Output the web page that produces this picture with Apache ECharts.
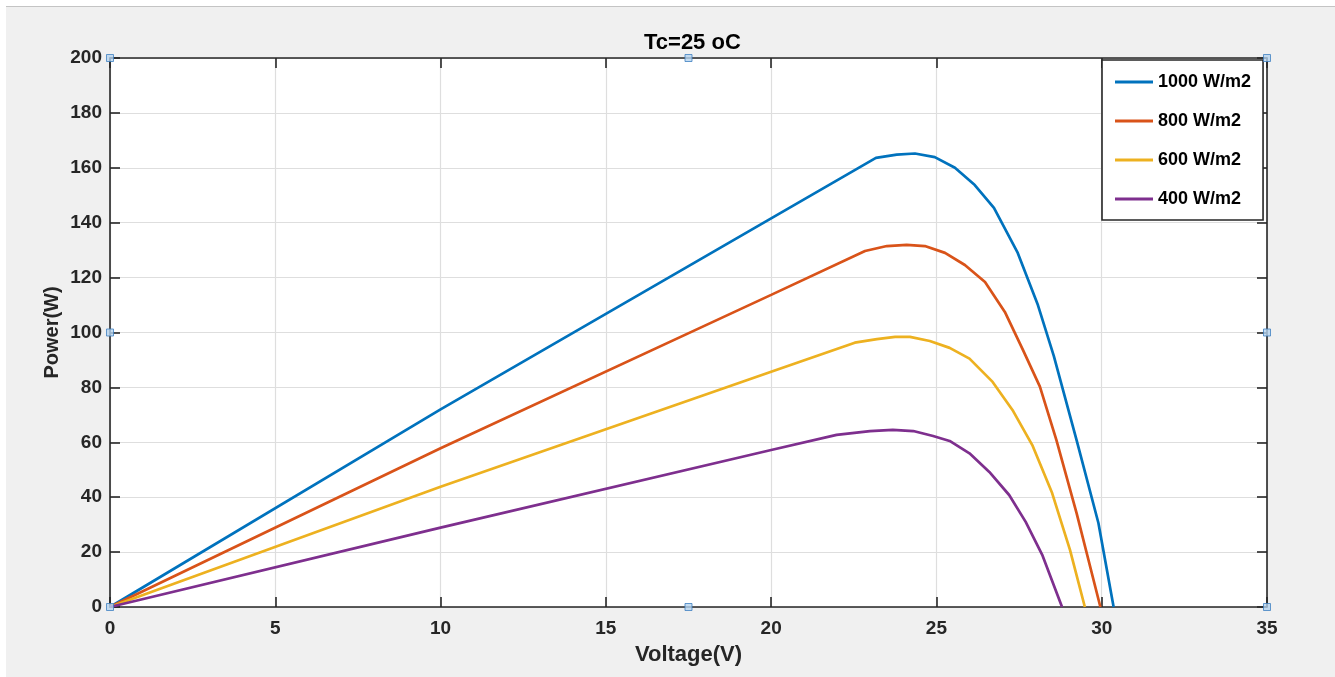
<!DOCTYPE html>
<html>
<head>
<meta charset="utf-8">
<script src="https://cdn.jsdelivr.net/npm/echarts@6/dist/echarts.min.js"></script>
<style>
html,body{margin:0;padding:0;background:#ffffff;}
#bg{position:absolute;left:6px;top:6px;width:1329px;height:671px;background:#f0f0f0;border-top:1px solid #c4c4c4;}
#chart{position:absolute;left:0;top:0;width:1335px;height:677px;}
</style>
</head>
<body>
<div id="bg"></div>
<div id="chart"></div>
<script>
// ---- data ----
const seriesNames = ['1000 W/m2', '800 W/m2', '600 W/m2', '400 W/m2'];

const v1000 = [0, 10, 20, 23.17, 23.8, 24.35, 24.95, 25.56, 26.16, 26.74, 27.46, 28.07, 28.55, 29.24, 29.9, 30.36];
const p1000 = [0, 72.0, 141.6, 163.6, 164.8, 165.2, 163.9, 160.0, 153.7, 145.4, 129.0, 110.0, 91.5, 60.8, 30.6, 0];

const v800 = [0, 10, 20, 22.84, 23.5, 24.1, 24.65, 25.26, 25.86, 26.47, 27.07, 27.62, 28.13, 28.63, 29.24, 29.96];
const p800 = [0, 57.8, 113.7, 129.7, 131.5, 131.9, 131.5, 129.0, 124.6, 118.4, 107.5, 93.6, 80.3, 60.8, 34.2, 0];

const v600 = [0, 10, 20, 22.53, 23.2, 23.75, 24.2, 24.8, 25.4, 26.0, 26.7, 27.3, 27.9, 28.5, 29.04, 29.49];
const p600 = [0, 43.8, 85.7, 96.3, 97.6, 98.4, 98.4, 96.9, 94.4, 90.5, 82.0, 71.8, 59.0, 41.5, 20.8, 0];

const v400 = [0, 10, 20, 21.98, 22.99, 23.68, 24.3, 24.9, 25.4, 26.0, 26.6, 27.2, 27.7, 28.2, 28.8];
const p400 = [0, 28.9, 57.2, 62.7, 64.1, 64.5, 64.1, 62.3, 60.5, 56.0, 49.2, 40.8, 31.0, 19.0, 0];

const xTicks = {min: 0, max: 35, interval: 5};
const yTicks = {min: 0, max: 200, interval: 20};

// selection handles on the axes box (data coordinates)
const handleX = [0, 17.5, 35, 0, 35, 0, 17.5, 35];
const handleY = [200, 200, 200, 100, 100, 0, 0, 0];

const colors = ['#0072BD', '#D95319', '#EDB120', '#7E2F8E'];

// ---- build options ----
const zip = (a, b) => a.map((x, i) => [x, b[i]]);
const allV = [v1000, v800, v600, v400];
const allP = [p1000, p800, p600, p400];

const FONT = 'Liberation Sans, Arial, sans-serif';
const AX = '#262626';

const lineSeries = seriesNames.map((n, i) => ({
  name: n,
  type: 'line',
  data: zip(allV[i], allP[i]),
  showSymbol: false,
  symbol: 'none',
  smooth: false,
  lineStyle: {width: 2.7, color: colors[i]},
  itemStyle: {color: colors[i]},
  z: 3
}));

const axisCommon = {
  axisLine: {show: true, onZero: false, lineStyle: {color: AX, width: 1.6}},
  axisTick: {show: true, inside: true, length: 10, lineStyle: {color: AX, width: 1.6}},
};

const option = {
  backgroundColor: 'transparent',
  animation: false,
  color: colors,
  title: {
    text: 'Tc=25 oC',
    left: 639,
    top: 27,
    textStyle: {fontFamily: FONT, fontSize: 22, fontWeight: 'bold', color: '#000'}
  },
  grid: {
    left: 110, right: 68, top: 58, bottom: 70,
    show: true, backgroundColor: '#ffffff', borderWidth: 0
  },
  legend: {
    data: seriesNames,
    orient: 'vertical',
    left: 1102, top: 60,
    backgroundColor: '#ffffff',
    borderColor: AX, borderWidth: 1.6, borderRadius: 0,
    padding: [13, 12, 12, 13],
    icon: 'rect',
    itemWidth: 38, itemHeight: 3,
    itemGap: 21,
    textStyle: {fontFamily: FONT, fontSize: 18, fontWeight: 'bold', color: '#000'}
  },
  xAxis: [
    Object.assign({
      type: 'value', position: 'bottom',
      min: xTicks.min, max: xTicks.max, interval: xTicks.interval,
      name: 'Voltage(V)', nameLocation: 'middle', nameGap: 37,
      nameMoveOverlap: false,
      nameTextStyle: {fontFamily: FONT, fontSize: 22, fontWeight: 'bold', color: AX},
      axisLabel: {margin: 12, fontFamily: FONT, fontSize: 19, fontWeight: 'bold', color: AX},
      splitLine: {show: true, lineStyle: {color: '#dedede', width: 1.2}}
    }, axisCommon),
    Object.assign({
      type: 'value', position: 'top',
      min: xTicks.min, max: xTicks.max, interval: xTicks.interval,
      axisLabel: {show: false}, splitLine: {show: false}
    }, axisCommon)
  ],
  yAxis: [
    Object.assign({
      type: 'value', position: 'left',
      min: yTicks.min, max: yTicks.max, interval: yTicks.interval,
      name: 'Power(W)', nameLocation: 'middle', nameGap: 48,
      nameMoveOverlap: false,
      nameTextStyle: {fontFamily: FONT, fontSize: 20, fontWeight: 'bold', color: AX},
      axisLabel: {margin: 8, fontFamily: FONT, fontSize: 19, fontWeight: 'bold', color: AX},
      splitLine: {show: true, lineStyle: {color: '#dedede', width: 1.2}}
    }, axisCommon),
    Object.assign({
      type: 'value', position: 'right',
      min: yTicks.min, max: yTicks.max, interval: yTicks.interval,
      axisLabel: {show: false}, splitLine: {show: false}
    }, axisCommon)
  ],
  series: lineSeries.concat([{
    name: 'handles',
    type: 'scatter',
    data: zip(handleX, handleY),
    symbol: 'rect',
    symbolSize: 7,
    clip: false,
    silent: true,
    itemStyle: {color: '#b5d3ef', borderColor: '#3f7fc0', borderWidth: 1},
    z: 10
  }])
};

const chart = echarts.init(document.getElementById('chart'), null, {renderer: 'canvas'});
chart.setOption(option);
</script>
</body>
</html>
